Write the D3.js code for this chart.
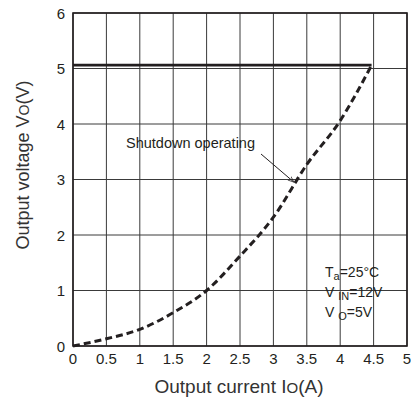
<!DOCTYPE html>
<html>
<head>
<meta charset="utf-8">
<script src="https://cdn.jsdelivr.net/npm/d3@7"></script>
<style>
  body { margin: 0; background: #fff; }
  text { font-family: "Liberation Sans", Arial, sans-serif; fill: #231f20; }
</style>
</head>
<body>
<script>
// shutdown curve (dashed)
var shutdownCurrent = [0, 0.5, 1, 1.5, 2, 2.5, 3, 3.5, 4, 4.47];
var shutdownVoltage = [0, 0.13, 0.3, 0.6, 1.0, 1.62, 2.32, 3.27, 4.06, 5.06];

// regulated output (solid)
var regCurrent = [0, 4.47];
var regVoltage = [5.06, 5.06];

var xTicks = [0, 0.5, 1, 1.5, 2, 2.5, 3, 3.5, 4, 4.5, 5];
var yTicks = [0, 1, 2, 3, 4, 5, 6];

var conditions = [
    {main: "T", sub: "a", rest: "=25°C"},
    {main: "V ", sub: "IN", rest: "=12V"},
    {main: "V ", sub: "O", rest: "=5V"}
];

var width = 411, height = 407;
var plotLeft = 73, plotRight = 407, plotTop = 13, plotBottom = 346;

var canvas = d3.select("body").append("svg")
    .attr("width", width)
    .attr("height", height);

var x = d3.scaleLinear().domain([0, 5]).range([plotLeft, plotRight]);
var y = d3.scaleLinear().domain([0, 6]).range([plotBottom, plotTop]);

// grid
canvas.append("g").selectAll("line")
    .data(xTicks)
    .enter().append("line")
    .attr("x1", function(d){ return x(d); })
    .attr("x2", function(d){ return x(d); })
    .attr("y1", plotTop)
    .attr("y2", plotBottom)
    .attr("stroke", "#3a3a3a")
    .attr("stroke-width", 1);

canvas.append("g").selectAll("line")
    .data(yTicks)
    .enter().append("line")
    .attr("x1", plotLeft)
    .attr("x2", plotRight)
    .attr("y1", function(d){ return y(d); })
    .attr("y2", function(d){ return y(d); })
    .attr("stroke", "#3a3a3a")
    .attr("stroke-width", 1);

canvas.append("rect")
    .attr("x", plotLeft)
    .attr("y", plotTop)
    .attr("width", plotRight - plotLeft)
    .attr("height", plotBottom - plotTop)
    .attr("fill", "none")
    .attr("stroke", "#231f20")
    .attr("stroke-width", 1.6);

// tick labels
canvas.append("g").selectAll("text")
    .data(xTicks)
    .enter().append("text")
    .attr("x", function(d){ return x(d); })
    .attr("y", 364)
    .attr("text-anchor", "middle")
    .attr("font-size", 15)
    .text(function(d){ return d; });

canvas.append("g").selectAll("text")
    .data(yTicks)
    .enter().append("text")
    .attr("x", 65)
    .attr("y", function(d){ return y(d) + 5.5; })
    .attr("text-anchor", "end")
    .attr("font-size", 15)
    .text(function(d){ return d; });

// axis titles
var xt = canvas.append("text")
    .attr("x", 239)
    .attr("y", 393)
    .attr("text-anchor", "middle")
    .attr("font-size", 19)
    .style("fill", "#333");
xt.append("tspan").text("Output current I");
xt.append("tspan").attr("font-size", 15).text("O");
xt.append("tspan").text("(A)");

var yt = canvas.append("text")
    .attr("transform", "translate(29,165) rotate(-90)")
    .attr("text-anchor", "middle")
    .attr("font-size", 18)
    .style("fill", "#333");
yt.append("tspan").text("Output voltage V");
yt.append("tspan").attr("font-size", 14).text("O");
yt.append("tspan").text("(V)");

// lines
var line = d3.line()
    .x(function(d){ return x(d[0]); })
    .y(function(d){ return y(d[1]); })
    .curve(d3.curveMonotoneX);

canvas.append("path")
    .datum(d3.zip(regCurrent, regVoltage))
    .attr("d", line)
    .attr("fill", "none")
    .attr("stroke", "#231f20")
    .attr("stroke-width", 2.6);

canvas.append("path")
    .datum(d3.zip(shutdownCurrent, shutdownVoltage))
    .attr("d", line)
    .attr("fill", "none")
    .attr("stroke", "#231f20")
    .attr("stroke-width", 3)
    .attr("stroke-dasharray", "7,4");

// annotation
canvas.append("defs").append("marker")
    .attr("id", "head")
    .attr("viewBox", "0 0 10 10")
    .attr("refX", 9)
    .attr("refY", 5)
    .attr("markerWidth", 6)
    .attr("markerHeight", 6)
    .attr("orient", "auto")
    .append("path")
    .attr("d", "M0,1 L10,5 L0,9")
    .attr("fill", "none")
    .attr("stroke", "#231f20")
    .attr("stroke-width", 1.2);

canvas.append("text")
    .attr("x", 126)
    .attr("y", 148)
    .attr("font-size", 14.5)
    .attr("font-family", "Noto Sans")
    .text("Shutdown operating");

canvas.append("line")
    .attr("x1", 261)
    .attr("y1", 154)
    .attr("x2", x(3.3))
    .attr("y2", y(2.96))
    .attr("stroke", "#231f20")
    .attr("stroke-width", 1)
    .attr("marker-end", "url(#head)");

// conditions
var cond = canvas.append("g").selectAll("text")
    .data(conditions)
    .enter().append("text")
    .attr("x", 325)
    .attr("y", function(d, i){ return 277 + i * 20; })
    .attr("font-size", 14)
    .attr("font-family", "Noto Sans");
cond.append("tspan").text(function(d){ return d.main; });
cond.append("tspan").attr("font-size", 11).attr("dy", 3).text(function(d){ return d.sub; });
cond.append("tspan").attr("dy", -3).text(function(d){ return d.rest; });
</script>
</body>
</html>
